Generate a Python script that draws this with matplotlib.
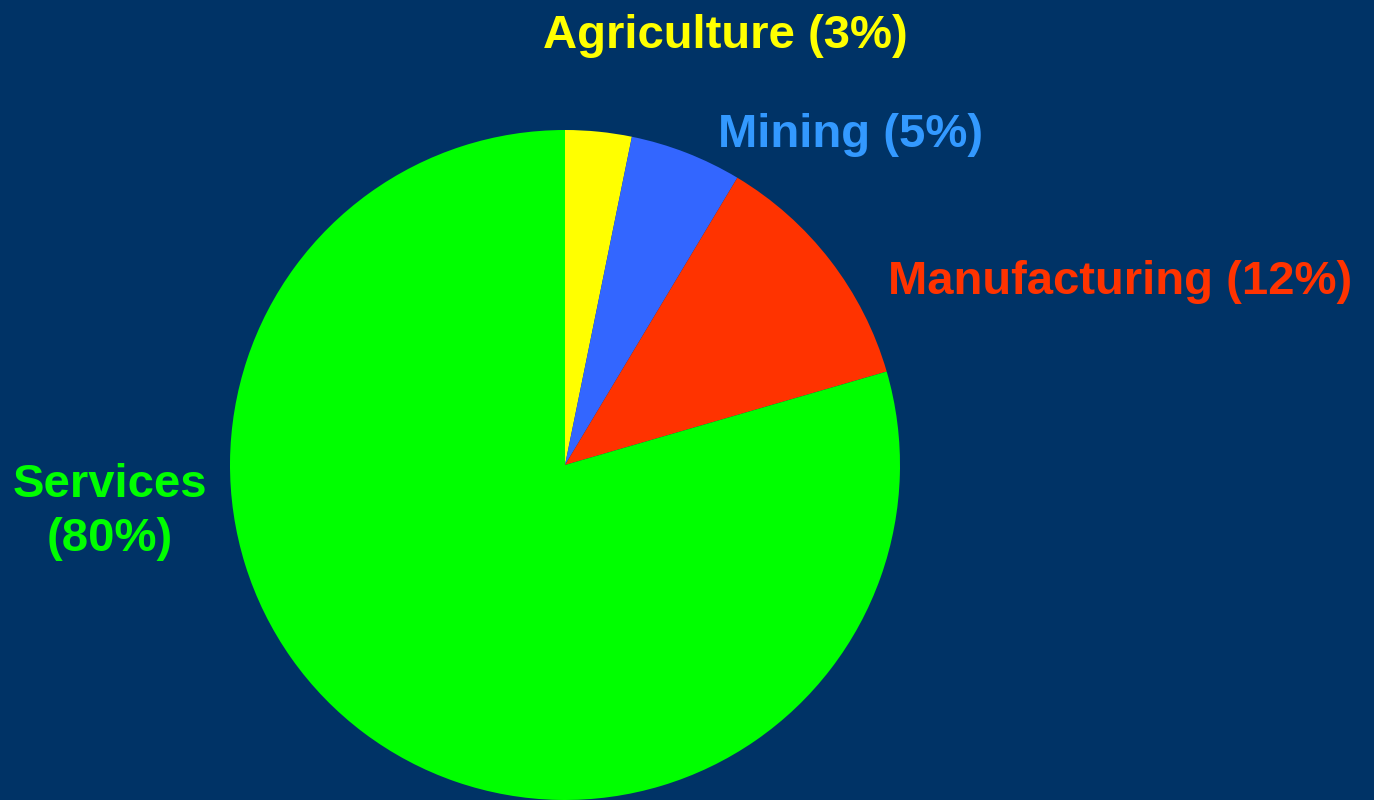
import matplotlib.pyplot as plt

sectors = ["Agriculture", "Mining", "Manufacturing", "Services"]
shares = [3.2, 5.4, 11.9, 79.5]
wedge_colors = ["#FFFF00", "#3366FF", "#FF3300", "#00FF00"]
label_colors = ["#FFFF00", "#3399FF", "#FF3300", "#00FF00"]

bg = "#003366"
W, H = 1374, 800

fig = plt.figure(figsize=(W / 100, H / 100), dpi=100, facecolor=bg)
# pie centre (565, 465) px, radius 335 px
ax = fig.add_axes([(565 - 335) / W, (H - 465 - 335) / H, 670 / W, 670 / H])
ax.set_facecolor(bg)
ax.pie(shares, colors=wedge_colors, startangle=90, counterclock=False,
       radius=1, wedgeprops={"linewidth": 0})
ax.set_xlim(-1, 1)
ax.set_ylim(-1, 1)
ax.set_aspect("equal")
ax.axis("off")

# label anchors in pixels (x centre, y centre)
label_pos = [(725, 36), (851, 135), (1120, 282), (110, 512)]
for name, val, col, (x, y) in zip(sectors, shares, label_colors, label_pos):
    pct = int(round(val))
    txt = f"{name}\n({pct}%)" if name == "Services" else f"{name} ({pct}%)"
    fig.text(x / W, 1 - y / H, txt, color=col, fontsize=34, fontweight="bold",
             family="Liberation Sans", ha="center", va="center",
             linespacing=1.3)

fig.savefig("out.png", dpi=100, facecolor=bg)
